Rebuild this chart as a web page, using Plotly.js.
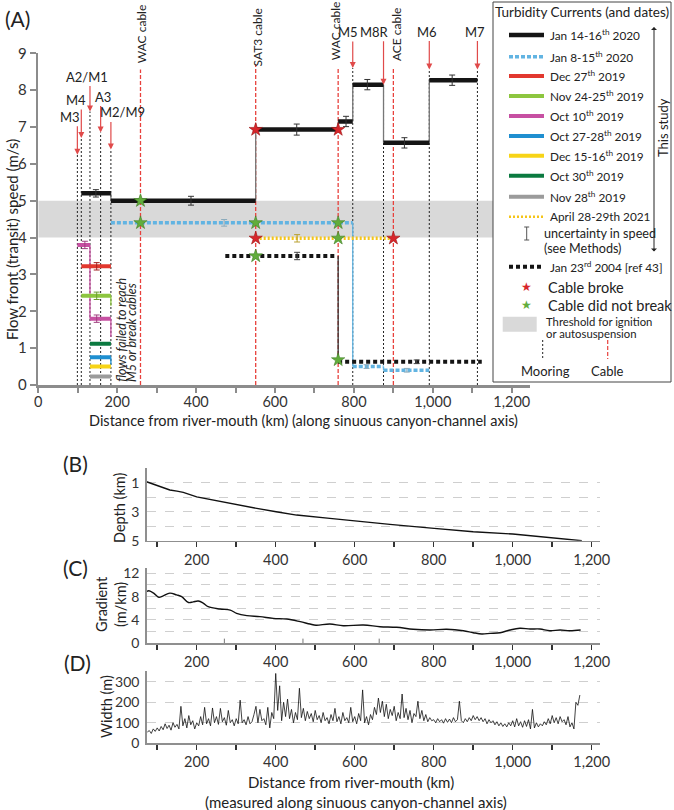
<!DOCTYPE html>
<html>
<head>
<meta charset="utf-8">
<script src="https://cdn.plot.ly/plotly-3.0.1.min.js"></script>
<style>
  body { margin: 0; background: #fff; }
  #chart { width: 674px; height: 810px; }
</style>
</head>
<body>
<div id="chart"></div>
<script>
// ---- panel A: moorings and cables (km along the canyon axis) ----
const mooringNames = ["M3", "M4", "A2/M1", "A3", "M2/M9", "M5", "M8R", "M6", "M7"];
const mooringKm = [99, 109, 131, 158, 184, 797, 875, 991, 1113];
const cableNames = ["WAC cable", "SAT3 cable", "WAC cable", "ACE cable"];
const cableKm = [259, 551, 760, 900];

// ---- panel A: front speeds (m/s) per flow, as segments between sites ----
const jan1416Start = [109, 184, 551, 760, 797, 875, 991];
const jan1416End = [184, 551, 760, 797, 875, 991, 1113];
const jan1416Speed = [5.2, 5.0, 6.93, 7.15, 8.15, 6.57, 8.27];
const jan1416ErrKm = [146, 387, 655, 780, 834, 928, 1049];
const jan1416Err = [0.1, 0.12, 0.15, 0.14, 0.14, 0.14, 0.14];

const jan0815Start = [184, 797, 875];
const jan0815End = [797, 875, 991];
const jan0815Speed = [4.4, 0.5, 0.4];
const jan0815ErrKm = [471, 832, 934];
const jan0815Err = [0.09, 0.05, 0.05];

const dec27Start = [109], dec27End = [184], dec27Speed = [3.22];
const nov2425Start = [109], nov2425End = [184], nov2425Speed = [2.42], nov2425Tail = 2.15;
const oct10Start = [99, 131], oct10End = [131, 184], oct10Speed = [3.8, 1.8], oct10Tail = 1.3;
const oct2728Start = [131], oct2728End = [184], oct2728Speed = [0.75], oct2728Tail = 0.55;
const dec1516Start = [131], dec1516End = [184], dec1516Speed = [0.5];
const oct30Start = [131], oct30End = [184], oct30Speed = [1.12];
const nov28Start = [131], nov28End = [184], nov28Speed = [0.23];
const earlyErrKm = [148];
const oct10ErrKm = [118, 148];

const apr2021Start = [551], apr2021End = [900], apr2021Speed = [3.98];
const apr2021ErrKm = [656];

const jan2004Start = [474, 760], jan2004End = [757, 1124], jan2004Speed = [3.5, 0.63];
const jan2004ErrKm = [656, 959];
const jan2004Err = [0.1, 0.05];

const brokeKm = [551, 760, 551, 900];
const brokeSpeed = [6.93, 6.93, 3.98, 3.98];
const intactKm = [259, 259, 551, 760, 760, 551, 760];
const intactSpeed = [5.0, 4.4, 4.4, 4.4, 3.98, 3.5, 0.68];

// ---- panel B: depth (km) ----
const depthKm = [73, 103, 132, 150, 166, 200, 250, 301, 352, 401, 453, 537, 601, 689, 801, 900, 1000, 1101, 1175];
const depthVal = [0.93, 1.23, 1.5, 1.58, 1.66, 1.97, 2.24, 2.54, 2.77, 3.0, 3.23, 3.46, 3.64, 3.87, 4.15, 4.38, 4.54, 4.79, 5.0];

// ---- panel C: gradient (m/km) ----
const gradKm = [74, 79, 91, 104, 114, 132, 149, 162, 179, 191, 204, 217, 229, 259, 285, 301, 327, 360, 394, 428, 462, 487, 502, 537,
  571, 622, 664, 706, 748, 791, 833, 875, 900, 922, 943, 968, 993, 1018, 1044, 1069, 1094, 1120, 1145, 1172];
const gradVal = [8.9, 9.0, 8.6, 7.9, 8.1, 8.6, 8.3, 8.0, 7.0, 7.1, 7.25, 6.86, 6.28, 5.88, 5.7, 5.14, 4.74, 4.57, 4.28, 4.17, 3.71, 3.3, 3.1, 3.31,
  3.02, 3.14, 2.85, 2.74, 2.4, 2.28, 2.4, 2.16, 1.82, 1.6, 1.71, 1.82, 2.28, 2.57, 2.45, 2.45, 2.16, 2.28, 2.16, 2.28];
const gradMarkKm = [270, 469, 662];

// ---- panel D: width (m) ----
const widthKm = [
  75, 80, 85, 90, 95, 100, 105, 110, 115, 120, 125, 130, 135, 140, 145, 150, 155, 160, 165, 170,
  175, 180, 185, 190, 195, 200, 205, 210, 215, 220, 225, 230, 235, 240, 245, 250, 255, 260, 265, 270,
  275, 280, 285, 290, 295, 300, 305, 310, 315, 320, 325, 330, 335, 340, 345, 350, 355, 360, 365, 370,
  375, 380, 385, 390, 395, 400, 405, 410, 415, 420, 425, 430, 435, 440, 445, 450, 455, 460, 465, 470,
  475, 480, 485, 490, 495, 500, 505, 510, 515, 520, 525, 530, 535, 540, 545, 550, 555, 560, 565, 570,
  575, 580, 585, 590, 595, 600, 605, 610, 615, 620, 625, 630, 635, 640, 645, 650, 655, 660, 665, 670,
  675, 680, 685, 690, 695, 700, 705, 710, 715, 720, 725, 730, 735, 740, 745, 750, 755, 760, 765, 770,
  775, 780, 785, 790, 795, 800, 805, 810, 815, 820, 825, 830, 835, 840, 845, 850, 855, 860, 865, 870,
  875, 880, 885, 890, 895, 900, 905, 910, 915, 920, 925, 930, 935, 940, 945, 950, 955, 960, 965, 970,
  975, 980, 985, 990, 995, 1000, 1005, 1010, 1015, 1020, 1025, 1030, 1035, 1040, 1045, 1050, 1055, 1060, 1065, 1070,
  1075, 1080, 1085, 1090, 1095, 1100, 1105, 1110, 1115, 1120, 1125, 1130, 1135, 1140, 1145, 1150, 1155, 1160, 1165, 1170];
const widthVal = [
  55, 62, 48, 70, 58, 75, 60, 82, 66, 95, 72, 88, 64, 100, 78, 92, 70, 180, 85, 120,
  75, 135, 90, 110, 70, 100, 85, 130, 90, 175, 95, 120, 85, 172, 100, 130, 92, 170, 105, 125,
  88, 160, 100, 115, 85, 120, 95, 210, 100, 115, 90, 130, 95, 105, 140, 180, 100, 165, 110, 120,
  90, 175, 75, 150, 120, 340, 160, 280, 110, 200, 130, 215, 120, 165, 100, 150, 115, 268, 125, 170,
  110, 155, 120, 145, 105, 160, 115, 135, 100, 150, 110, 125, 95, 140, 110, 170, 105, 130, 95, 150,
  110, 125, 100, 175, 105, 130, 95, 145, 110, 260, 100, 130, 90, 140, 115, 175, 140, 220, 150, 205,
  130, 190, 120, 165, 135, 180, 110, 150, 120, 240, 125, 170, 115, 160, 100, 145, 130, 205, 120, 160,
  110, 140, 105, 125, 110, 115, 100, 120, 105, 115, 98, 120, 102, 118, 100, 125, 105, 115, 205, 110,
  100, 120, 105, 125, 110, 135, 115, 130, 110, 125, 105, 120, 95, 115, 100, 110, 90, 105, 85, 100,
  82, 95, 80, 100, 85, 110, 80, 120, 85, 105, 78, 110, 82, 115, 70, 165, 75, 100, 80, 95,
  85, 105, 90, 120, 95, 135, 100, 125, 95, 130, 105, 115, 90, 130, 80, 100, 70, 200, 185, 235];

// ---- tick labels (minor ticks every 100 km are unlabelled) ----
const topTickVals = [0, 200, 400, 600, 800, 1000, 1200];
const topTickText = ["0", "200", "400", "600", "800", "1,000", "1,200"];
const lowTickVals = [200, 400, 600, 800, 1000, 1200];
const lowTickText = ["200", "400", "600", "800", "1,000", "1,200"];
const depthTicks = [1, 3, 5];
const gradTicks = [0, 4, 8, 12];
const widthTicks = [0, 100, 200, 300];

// ---------------------------------------------------------------
const W = 674, H = 810;
const P = px => px / W;          // pixel -> paper x
const Q = py => 1 - py / H;      // pixel -> paper y
const FONT = "Lato, 'Open Sans', sans-serif";
const f = (size, color = "#222", family = FONT) => ({ family, size, color });

// layout-only: where the site lines stop, arrow lengths, label nudges
const mooringLineTop = [6.25, 6.7, 7.42, 6.85, 6.39, 8.6, 8.15, 8.56, 8.56];
const mooringArrowLen = [30, 30, 27, 28, 29, 28, 45, 30, 30];
const mooringLabelShift = [-7, -5, -3, 2, 12, -5, -9, -2, -2];
const cableLineTop = [8.56, 8.7, 8.6, 8.6];
const cableLabelShift = [1.7, 1.7, -3, 3.7];
const cableLabelY = [34, 37, 31, 34];

const BLACK = "#151515", BLUE_DASH = "#62b4e2", RED = "#e2382f", GREEN = "#8dc63f",
  MAGENTA = "#c750a2", BLUE = "#1f8fd0", YELLOW = "#f7d417", DKGREEN = "#0b7a40",
  GREY = "#9b9b9b", APR = "#f5c518";

function segXY(start, end, speed) {
  const x = [], y = [];
  speed.forEach((v, i) => { x.push(start[i], end[i], null); y.push(v, v, null); });
  return { x, y };
}
function connXY(start, end, speed, tail) {
  const x = [], y = [];
  for (let i = 1; i < speed.length; i++) {
    x.push(start[i], start[i], null); y.push(speed[i - 1], speed[i], null);
  }
  if (tail !== undefined) {
    const k = speed.length - 1;
    x.push(end[k], end[k], null); y.push(speed[k], tail, null);
  }
  return { x, y };
}

const events = [
  { s: jan2004Start, e: jan2004End, v: jan2004Speed, color: BLACK, width: 4, dash: "4px,3px", conn: "#333",
    errKm: jan2004ErrKm, errV: [3.5, 0.63], err: jan2004Err, errColor: "#444" },
  { s: apr2021Start, e: apr2021End, v: apr2021Speed, color: APR, width: 3.5, dash: "2px,2px",
    errKm: apr2021ErrKm, errV: [3.98], err: [0.1], errColor: "#b9a030" },
  { s: jan0815Start, e: jan0815End, v: jan0815Speed, color: BLUE_DASH, width: 3.5, dash: "4px,2px", conn: BLUE_DASH,
    errKm: jan0815ErrKm, errV: jan0815Speed, err: jan0815Err, errColor: "#8aaabb" },
  { s: nov28Start, e: nov28End, v: nov28Speed, color: GREY, width: 4, dash: "solid" },
  { s: dec1516Start, e: dec1516End, v: dec1516Speed, color: YELLOW, width: 4, dash: "solid" },
  { s: oct2728Start, e: oct2728End, v: oct2728Speed, color: BLUE, width: 4, dash: "solid", conn: BLUE, tail: oct2728Tail },
  { s: oct30Start, e: oct30End, v: oct30Speed, color: DKGREEN, width: 4, dash: "solid" },
  { s: oct10Start, e: oct10End, v: oct10Speed, color: MAGENTA, width: 4, dash: "solid", conn: MAGENTA, tail: oct10Tail,
    errKm: oct10ErrKm, errV: oct10Speed, err: [0.1, 0.1], errColor: "#a04080" },
  { s: nov2425Start, e: nov2425End, v: nov2425Speed, color: GREEN, width: 4, dash: "solid", conn: GREEN, tail: nov2425Tail,
    errKm: earlyErrKm, errV: nov2425Speed, err: [0.1], errColor: "#6a9a30" },
  { s: dec27Start, e: dec27End, v: dec27Speed, color: RED, width: 4, dash: "solid",
    errKm: earlyErrKm, errV: dec27Speed, err: [0.1], errColor: "#a02020" },
  { s: jan1416Start, e: jan1416End, v: jan1416Speed, color: BLACK, width: 4.5, dash: "solid", conn: "#777",
    errKm: jan1416ErrKm, errV: jan1416Speed, err: jan1416Err, errColor: "#333" }
];

const traces = [];

// site lines
const mx = [], my = [];
mooringKm.forEach((k, i) => { mx.push(k, k, null); my.push(0, mooringLineTop[i], null); });
traces.push({ x: mx, y: my, mode: "lines", line: { color: "#222", width: 1, dash: "2px,2px" }, hoverinfo: "skip" });
const cx = [], cy = [];
cableKm.forEach((k, i) => { cx.push(k, k, null); cy.push(0, cableLineTop[i], null); });
traces.push({ x: cx, y: cy, mode: "lines", line: { color: "#e8413c", width: 1.3, dash: "4px,2px" }, hoverinfo: "skip" });

// thin connectors, then thick segments, then error bars
events.forEach(ev => {
  if (!ev.conn) return;
  const c = connXY(ev.s, ev.e, ev.v, ev.tail);
  traces.push({ x: c.x, y: c.y, mode: "lines", line: { color: ev.conn, width: 1.3 }, hoverinfo: "skip" });
});
events.forEach(ev => {
  const g = segXY(ev.s, ev.e, ev.v);
  traces.push({ x: g.x, y: g.y, mode: "lines", line: { color: ev.color, width: ev.width, dash: ev.dash }, hoverinfo: "skip" });
});
events.forEach(ev => {
  if (!ev.errKm) return;
  traces.push({
    x: ev.errKm, y: ev.errV, mode: "markers", marker: { size: 1, color: "rgba(0,0,0,0)" },
    error_y: { type: "data", array: ev.err, visible: true, color: ev.errColor, thickness: 1, width: 3 }, hoverinfo: "skip"
  });
});

// cable outcomes
traces.push({ x: intactKm, y: intactSpeed, mode: "markers",
  marker: { symbol: "star", size: 10, color: "#62ad3c", line: { color: "#3f7d25", width: 0.6 } }, hoverinfo: "skip" });
traces.push({ x: brokeKm, y: brokeSpeed, mode: "markers",
  marker: { symbol: "star", size: 10, color: "#d7262b", line: { color: "#9a1515", width: 0.6 } }, hoverinfo: "skip" });

// panels B, C, D
traces.push({ x: depthKm, y: depthVal, xaxis: "x2", yaxis: "y2", mode: "lines", line: { color: "#111", width: 1.4 }, hoverinfo: "skip" });
traces.push({ x: gradKm, y: gradVal, xaxis: "x3", yaxis: "y3", mode: "lines", line: { color: "#111", width: 1.4, shape: "spline" }, hoverinfo: "skip" });
const gmx = [], gmy = [];
gradMarkKm.forEach(k => { gmx.push(k, k, null); gmy.push(0, 0.8, null); });
traces.push({ x: gmx, y: gmy, xaxis: "x3", yaxis: "y3", mode: "lines", line: { color: "#777", width: 1 }, hoverinfo: "skip" });
traces.push({ x: widthKm, y: widthVal, xaxis: "x4", yaxis: "y4", mode: "lines", line: { color: "#111", width: 0.8 }, hoverinfo: "skip" });

// ---------------------------------------------------------------
const annotations = [];
const txt = (text, px, py, opt = {}) => annotations.push(Object.assign({
  text, xref: "paper", yref: "paper", x: P(px), y: Q(py), showarrow: false,
  xanchor: "center", yanchor: "middle", font: f(13)
}, opt));

// panel letters and axis titles
txt("(A)", 17, 18, { font: f(21) });
txt("(B)", 75, 463, { font: f(21) });
txt("(C)", 75, 567, { font: f(21) });
txt("(D)", 77, 662, { font: f(21) });
txt("Flow front (transit) speed (m/s)", 12, 240, { textangle: -90, font: f(15) });
txt("Distance from river-mouth (km) (along sinuous canyon-channel axis)", 303, 420, { font: f(14.5) });
txt("Depth (km)", 119, 508, { textangle: -90, font: f(14.5) });
txt("Gradient<br>(m/km)", 111, 604, { textangle: -90, font: f(14.5) });
txt("Width (m)", 106, 707, { textangle: -90, font: f(14.5) });
txt("Distance from river-mouth (km)", 351, 782, { font: f(15) });
txt("(measured along sinuous canyon-channel axis)", 356, 802, { font: f(15) });

// mooring arrows and names
mooringNames.forEach((n, i) => {
  annotations.push({ x: mooringKm[i], y: mooringLineTop[i], xref: "x", yref: "y", text: "", showarrow: true,
    ax: 0, ay: -mooringArrowLen[i], arrowhead: 2, arrowsize: 1, arrowwidth: 1.2, arrowcolor: "#e04a4a" });
  annotations.push({ x: mooringKm[i], y: mooringLineTop[i], xref: "x", yref: "y", text: n, showarrow: false,
    yanchor: "bottom", xanchor: "center", yshift: mooringArrowLen[i] - 2, xshift: mooringLabelShift[i], font: f(13) });
});
// cable names
cableNames.forEach((n, i) => {
  annotations.push({ x: cableKm[i], y: Q(cableLabelY[i]), xref: "x", yref: "paper", text: n, showarrow: false,
    textangle: -90, xanchor: "center", yanchor: "middle", xshift: cableLabelShift[i], font: f(12) });
});
// note on the short early flows, one rotated line each
annotations.push({ x: 209, y: 0, xref: "x", yref: "y", showarrow: false, textangle: -90, xanchor: "center", yanchor: "bottom",
  yshift: 1, text: "<i>flows failed to reach</i>", font: f(12.5) });
annotations.push({ x: 236, y: 0, xref: "x", yref: "y", showarrow: false, textangle: -90, xanchor: "center", yanchor: "bottom",
  yshift: 1, text: "<i>M5 or break cables</i>", font: f(12.5) });

// legend
const legendRows = [
  ["Jan 14-16<sup>th</sup> 2020", BLACK, "solid", 4.5, 35],
  ["Jan 8-15<sup>th</sup> 2020", BLUE_DASH, "4px,2px", 3.5, 56.7],
  ["Dec 27<sup>th</sup> 2019", RED, "solid", 4, 76],
  ["Nov 24-25<sup>th</sup> 2019", GREEN, "solid", 4, 96],
  ["Oct 10<sup>th</sup> 2019", MAGENTA, "solid", 4, 116],
  ["Oct 27-28<sup>th</sup> 2019", BLUE, "solid", 4, 136],
  ["Dec 15-16<sup>th</sup> 2019", YELLOW, "solid", 4, 155.7],
  ["Oct 30<sup>th</sup> 2019", DKGREEN, "solid", 4, 175.7],
  ["Nov 28<sup>th</sup> 2019", GREY, "solid", 4, 196.7],
  ["April 28-29th 2021", APR, "2px,2px", 2.5, 216.7],
  ["Jan 23<sup>rd</sup> 2004 [ref 43]", BLACK, "4px,3px", 4, 266.7]
];

const shapes = [
  { type: "rect", xref: "x", yref: "y", x0: 0, x1: 1245, y0: 4, y1: 5, fillcolor: "#d9d9d9", line: { width: 0 }, layer: "below" },
  { type: "rect", xref: "paper", yref: "paper", x0: P(493), x1: P(671), y0: Q(382), y1: Q(2),
    fillcolor: "#fff", line: { color: "#444", width: 1 }, layer: "above" }
];
legendRows.forEach(r => {
  shapes.push({ type: "line", xref: "paper", yref: "paper", x0: P(509), x1: P(544), y0: Q(r[4]), y1: Q(r[4]),
    line: { color: r[1], width: r[3], dash: r[2] }, layer: "above" });
  txt(r[0], 548, r[4], { xanchor: "left", font: f(11.8) });
});
txt("Turbidity Currents (and dates)", 582, 12, { font: f(13.5) });
// uncertainty symbol
shapes.push({ type: "line", xref: "paper", yref: "paper", x0: P(526.7), x1: P(526.7), y0: Q(227), y1: Q(240), line: { color: "#555", width: 1 }, layer: "above" });
shapes.push({ type: "line", xref: "paper", yref: "paper", x0: P(524.2), x1: P(529.2), y0: Q(227), y1: Q(227), line: { color: "#555", width: 1 }, layer: "above" });
shapes.push({ type: "line", xref: "paper", yref: "paper", x0: P(524.2), x1: P(529.2), y0: Q(240), y1: Q(240), line: { color: "#555", width: 1 }, layer: "above" });
txt("uncertainty in speed", 541.7, 233, { xanchor: "left", font: f(12.6) });
txt("(see Methods)", 541.7, 248.5, { xanchor: "left", font: f(12.6) });
txt("★", 526.7, 287, { font: f(12, "#d7262b", "DejaVu Sans") });
txt("★", 526.7, 305, { font: f(12, "#62ad3c", "DejaVu Sans") });
txt("Cable broke", 546, 287, { xanchor: "left", font: f(14.5) });
txt("Cable did not break", 546, 305, { xanchor: "left", font: f(14.5) });
shapes.push({ type: "rect", xref: "paper", yref: "paper", x0: P(502.7), x1: P(536.7), y0: Q(331.7), y1: Q(316.7),
  fillcolor: "#d9d9d9", line: { width: 0 }, layer: "above" });
txt("Threshold for ignition", 544, 321.5, { xanchor: "left", font: f(11.3) });
txt("or autosuspension", 544, 333.5, { xanchor: "left", font: f(11.3) });
shapes.push({ type: "line", xref: "paper", yref: "paper", x0: P(542.7), x1: P(542.7), y0: Q(340), y1: Q(359),
  line: { color: "#222", width: 1, dash: "2px,2px" }, layer: "above" });
shapes.push({ type: "line", xref: "paper", yref: "paper", x0: P(607.7), x1: P(607.7), y0: Q(340), y1: Q(359),
  line: { color: "#e8413c", width: 1.2, dash: "4px,2px" }, layer: "above" });
txt("Mooring", 545, 371);
txt("Cable", 607, 371);
// "This study" bracket
annotations.push({ xref: "paper", yref: "paper", x: P(654), y: Q(27), ax: 0, ay: 226, text: "", showarrow: true,
  arrowside: "end+start", arrowhead: 1, arrowsize: 1, arrowwidth: 1, arrowcolor: "#222" });
txt("This study", 663, 128, { textangle: -90, font: f(13) });

// ---------------------------------------------------------------
const lowX = (dom, anchor) => ({
  domain: dom, range: [73.4, 1221], anchor, showline: true, linecolor: "#8f8f8f", linewidth: 1.5,
  ticks: "outside", ticklen: 5, tickwidth: 1.5, tickcolor: "#333", tickvals: lowTickVals, ticktext: lowTickText,
  minor: { tick0: 0, dtick: 100, ticks: "outside", ticklen: 5, tickwidth: 1.5, tickcolor: "#333" },
  showgrid: false, zeroline: false, tickfont: f(14.5, "#333"), fixedrange: true
});
const lowY = (dom, anchor, range, vals, gridStep) => ({
  domain: dom, range, anchor, showline: true, linecolor: "#8f8f8f", linewidth: 1.5, ticks: "",
  tickvals: vals, ticktext: vals.map(String), showgrid: true, gridcolor: "#cfcfcf", griddash: "dash", gridwidth: 1,
  minor: { tick0: 0, dtick: gridStep, showgrid: true, gridcolor: "#cfcfcf", griddash: "dash", gridwidth: 1, ticks: "" },
  zeroline: false, tickfont: f(14, "#333"), ticklabelstandoff: 3, fixedrange: true
});

const layout = {
  width: W, height: H, margin: { l: 0, r: 0, t: 0, b: 0 },
  paper_bgcolor: "#fff", plot_bgcolor: "rgba(0,0,0,0)", showlegend: false,
  font: { family: FONT, color: "#222" },
  xaxis: {
    domain: [P(38.3), P(529.5)], range: [0, 1245], anchor: "y", showline: true, linecolor: "#8c8c8c", linewidth: 2.5,
    ticks: "outside", ticklen: 5, tickwidth: 2, tickcolor: "#8c8c8c", tickvals: topTickVals, ticktext: topTickText,
    minor: { tick0: 0, dtick: 100, ticks: "outside", ticklen: 5, tickwidth: 2, tickcolor: "#8c8c8c" },
    ticklabelstandoff: -3, showgrid: false, zeroline: false, tickfont: f(14.5, "#333")
  },
  yaxis: {
    domain: [Q(385), Q(53.3)], range: [0, 9], anchor: "x", showline: true, linecolor: "#8c8c8c", linewidth: 2.5,
    ticks: "outside", ticklen: 6, tickwidth: 2, tickcolor: "#8c8c8c", dtick: 1,
    showgrid: false, zeroline: false, tickfont: f(15, "#333")
  },
  xaxis2: lowX([P(146.7), P(600)], "y2"),
  yaxis2: lowY([Q(540.7), Q(468.3)], "x2", [5, 0], depthTicks, 1),
  xaxis3: lowX([P(146.7), P(600)], "y3"),
  yaxis3: lowY([Q(643.3), Q(568.3)], "x3", [0, 12.86], gradTicks, 2),
  xaxis4: lowX([P(146.7), P(600)], "y4"),
  yaxis4: lowY([Q(743.3), Q(671)], "x4", [0, 352], widthTicks, 100),
  shapes, annotations
};

Plotly.newPlot("chart", traces, layout, { displayModeBar: false, staticPlot: true });
</script>
</body>
</html>
